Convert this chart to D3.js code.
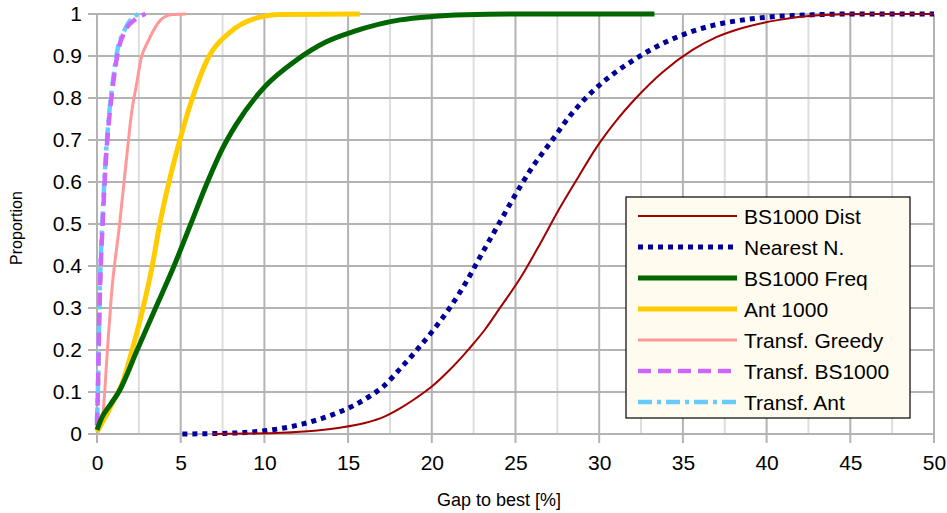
<!DOCTYPE html>
<html>
<head>
<meta charset="utf-8">
<script src="https://cdn.jsdelivr.net/npm/d3@7"></script>
<style>
  body { margin: 0; background: #fff; }
  text { font-family: "Liberation Sans", Arial, sans-serif; fill: #000; }
</style>
</head>
<body>
<svg width="947" height="513"></svg>
<script>
// Data: [gap %, proportion]
var bsDist = [[6.9,0],[9,0.001],[11,0.003],[13,0.008],[14.5,0.015],[16,0.026],[17.2,0.042],
  [18.1,0.061],[19,0.084],[20,0.113],[21,0.15],[22.25,0.204],[23.2,0.25],[24.05,0.299],[25.3,0.372],
  [26.5,0.455],[27.6,0.535],[28.8,0.615],[29.8,0.68],[31,0.745],[32.2,0.8],[33.8,0.862],
  [35.6,0.915],[37,0.945],[38.4,0.965],[40.75,0.986],[43.1,0.997],[46,1],[50,1]];
var nearest = [[5.1,0],[7,0.001],[9,0.004],[10.5,0.01],[12.3,0.024],[14,0.045],[15.3,0.067],
  [16.3,0.09],[17.1,0.113],[18.1,0.155],[19,0.195],[20.1,0.248],[21.1,0.302],[22.1,0.365],
  [23,0.43],[24,0.5],[24.85,0.56],[26,0.635],[27.2,0.7],[28.2,0.755],[29.2,0.8],[30.6,0.85],
  [32.2,0.894],[33.8,0.93],[35.3,0.955],[36.8,0.973],[38.8,0.987],[40.5,0.994],[42.7,0.998],
  [45,1],[50,1]];
var bsFreq = [[0,0.01],[0.3,0.04],[0.8,0.07],[1.3,0.1],[2.4,0.2],[3.5,0.3],[4.6,0.4],[5.6,0.5],
  [6.6,0.6],[7.5,0.68],[8.3,0.736],[10,0.826],[11.9,0.89],[13.7,0.934],[15.3,0.958],[18.1,0.986],
  [20,0.994],[22,0.998],[25,1],[33.3,1]];
var ant = [[0,0.005],[0.5,0.04],[1,0.08],[1.5,0.12],[2.1,0.2],[2.75,0.3],[3.3,0.4],[3.75,0.5],
  [4.3,0.6],[4.95,0.7],[5.7,0.8],[6.7,0.9],[7.9,0.955],[9.5,0.99],[11,0.999],[15.7,1]];
var trGreedy = [[0,0.01],[0.2,0.03],[0.36,0.05],[0.46,0.1],[0.62,0.2],[0.86,0.33],[1.35,0.5],
  [1.8,0.67],[2.05,0.76],[2.35,0.83],[2.64,0.895],[3.04,0.934],[3.64,0.978],[4.4,0.998],[5.3,1]];
var trBS = [[0,0.02],[0.05,0.1],[0.15,0.3],[0.36,0.52],[0.56,0.67],[0.75,0.76],[0.95,0.83],
  [1.25,0.91],[1.65,0.958],[2.25,0.986],[2.9,1]];
var trAnt = [[0,0.03],[0.05,0.1],[0.14,0.3],[0.34,0.52],[0.54,0.67],[0.72,0.76],[0.92,0.83],
  [1.2,0.91],[1.6,0.958],[2.1,0.99],[2.45,1]];

var names = ["BS1000 Dist","Nearest N.","BS1000 Freq","Ant 1000","Transf. Greedy","Transf. BS1000","Transf. Ant"];
var xTicks = d3.range(0, 51, 5);
var yTicks = d3.range(0, 1.01, 0.1);

var series = [
  {name: names[0], data: bsDist,   color: "#a00000", width: 2,   dash: null},
  {name: names[1], data: nearest,  color: "#000099", width: 5,   dash: "5,5"},
  {name: names[2], data: bsFreq,   color: "#006600", width: 5,   dash: null},
  {name: names[3], data: ant,      color: "#ffcc00", width: 5,   dash: null},
  {name: names[4], data: trGreedy, color: "#ff9999", width: 3,   dash: null},
  {name: names[5], data: trBS,     color: "#cc66ff", width: 4.5, dash: "13,7"},
  {name: names[6], data: trAnt,    color: "#66ccff", width: 4.5, dash: "14,5,4,5"}
];

var svg = d3.select("svg");
var margin = {left: 97, top: 14, right: 13, bottom: 79};
var width = 947 - margin.left - margin.right,
    height = 513 - margin.top - margin.bottom;

var x = d3.scaleLinear().domain([0, 50]).range([0, width]);
var y = d3.scaleLinear().domain([0, 1]).range([height, 0]);

var g = svg.append("g").attr("transform", "translate(" + margin.left + "," + margin.top + ")");

// minor vertical grid
g.selectAll(".minor").data(d3.range(2.5, 50, 5)).enter().append("line")
  .attr("x1", d => x(d)).attr("x2", d => x(d))
  .attr("y1", 0).attr("y2", height)
  .attr("stroke", "#dddddd").attr("stroke-width", 2);

// major grid
g.selectAll(".vgrid").data(xTicks).enter().append("line")
  .attr("x1", d => x(d)).attr("x2", d => x(d))
  .attr("y1", 0).attr("y2", height + 9)
  .attr("stroke", "#b3b3b3").attr("stroke-width", 2);
g.selectAll(".hgrid").data(yTicks).enter().append("line")
  .attr("x1", -9).attr("x2", width)
  .attr("y1", d => y(d)).attr("y2", d => y(d))
  .attr("stroke", "#b3b3b3").attr("stroke-width", 2);

// axes (labels only, lines drawn above)
var xAxis = g.append("g").attr("transform", "translate(0," + height + ")")
  .call(d3.axisBottom(x).tickValues(xTicks).tickSize(0).tickPadding(21).tickFormat(d3.format("d")));
var yAxis = g.append("g")
  .call(d3.axisLeft(y).tickValues(yTicks).tickSize(0).tickPadding(15).tickFormat(d => d === 0 ? "0" : d === 1 ? "1" : d3.format(".1f")(d)));
[xAxis, yAxis].forEach(function(a) {
  a.select(".domain").remove();
  a.selectAll("text").attr("font-size", 21).attr("font-family", "Liberation Sans, Arial, sans-serif");
});

// series, drawn last-to-first
var line = d3.line().x(d => x(d[0])).y(d => y(d[1])).curve(d3.curveMonotoneX);
series.slice().reverse().forEach(function(s) {
  g.append("path").datum(s.data)
    .attr("d", line)
    .attr("fill", "none")
    .attr("stroke", s.color)
    .attr("stroke-width", s.width)
    .attr("stroke-dasharray", s.dash)
    .attr("stroke-linejoin", "round");
});

// axis titles
svg.append("text").attr("x", 499).attr("y", 506).attr("text-anchor", "middle")
  .attr("font-size", 18).text("Gap to best [%]");
svg.append("text").attr("transform", "translate(22,228) rotate(-90)").attr("text-anchor", "middle")
  .attr("font-size", 16).text("Proportion");

// legend
var leg = svg.append("g").attr("transform", "translate(626,197)");
leg.append("rect").attr("width", 284).attr("height", 221)
  .attr("fill", "#fffcef").attr("stroke", "#000").attr("stroke-width", 1.2);
series.forEach(function(s, i) {
  var cy = 19 + i * 31;
  leg.append("line").attr("x1", 12).attr("x2", 111).attr("y1", cy).attr("y2", cy)
    .attr("stroke", s.color).attr("stroke-width", s.width).attr("stroke-dasharray", s.dash);
  leg.append("text").attr("x", 118).attr("y", cy).attr("dy", "0.36em")
    .attr("font-size", 21).text(s.name);
});
</script>
</body>
</html>
